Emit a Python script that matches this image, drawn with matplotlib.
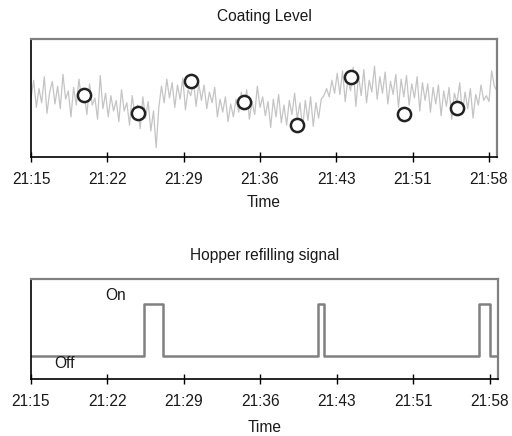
import numpy as np
import pandas as pd
import matplotlib
matplotlib.use("Agg")
import matplotlib.pyplot as plt

plt.rcParams['font.family'] = ['Liberation Sans', 'DejaVu Sans']

# ------------------------------------------------
# Data
# ------------------------------------------------
start = pd.Timestamp("2024-01-01 21:15:00")
sample_step = "15s"

# coating level, one reading every 15 s
coating = [
    5.0, 6.5, 4.2, 5.8,  4.6, 6.8, 3.7, 5.5,  6.4, 4.5, 6.0, 4.1,
    7.0, 4.9, 5.6, 3.4,  5.9, 4.4, 6.6, 4.8,  5.3, 3.6, 6.2, 4.4,
    5.0, 3.2, 6.9, 4.1,  5.4, 3.4, 5.2, 3.9,  4.8, 3.0, 5.7, 3.9,
    4.6, 2.7, 5.2, 3.5,  4.4, 2.4, 5.1, 3.3,  4.7, 2.2, 3.9, 0.8,
    4.2, 6.0, 4.6, 6.6,  5.0, 6.3, 4.2, 6.1,  4.9, 6.7, 4.0, 5.7,
    5.2, 6.4, 4.3, 6.2,  4.8, 6.1, 4.1, 5.5,  4.6, 5.9, 3.4, 4.9,
    3.8, 5.1, 3.0, 4.5,  3.4, 4.9, 3.8, 5.5,  4.0, 5.7, 3.2, 4.7,
    3.6, 6.0, 4.2, 5.1,  3.5, 4.7, 2.5, 4.9,  3.4, 5.3, 2.9, 4.4,
    2.7, 4.8, 3.6, 5.4,  3.2, 4.6, 2.4, 4.8,  3.1, 5.1, 2.6, 4.6,
    3.3, 4.9, 5.2, 5.8,  5.1, 6.5, 5.4, 7.1,  5.3, 7.3, 4.7, 6.6,
    5.6, 7.6, 4.3, 6.9,  5.2, 7.4, 4.6, 6.5,  5.5, 7.7, 4.9, 6.8,
    5.4, 7.2, 4.5, 6.4,  5.3, 7.0, 4.2, 6.6,  5.1, 6.9, 4.4, 6.2,
    5.0, 6.8, 3.9, 6.3,  4.8, 6.2, 3.8, 5.9,  4.5, 6.1, 3.5, 5.6,
    4.3, 5.9, 3.2, 5.4,  4.6, 6.3, 3.6, 5.5,  4.1, 5.8, 3.3, 5.3,
    4.4, 6.1, 4.8, 5.2,  4.7, 7.3, 6.0, 5.6,
]

# lab samples (circles)
sample_times = ["21:20", "21:25", "21:30", "21:35", "21:40", "21:45", "21:50", "21:55"]
sample_values = [5.25, 3.73, 6.44, 4.66, 2.71, 6.78, 3.64, 4.15]

# hopper signal: switch times and state (0 = off, 1 = on)
switch_times = ["21:15:00", "21:25:36", "21:27:23", "21:41:55", "21:42:29",
                "21:56:56", "21:57:58", "21:58:45"]
switch_state = [0, 1, 0, 1, 0, 1, 0, 0]

tick_labels = ["21:15", "21:22", "21:29", "21:36", "21:43", "21:51", "21:58"]
end = pd.Timestamp("2024-01-01 21:58:45")

# ------------------------------------------------
# Build time axes
# ------------------------------------------------
t_coat = pd.date_range(start, periods=len(coating), freq=sample_step)
t_samp = pd.to_datetime(["2024-01-01 " + s for s in sample_times])
t_sw = pd.to_datetime(["2024-01-01 " + s for s in switch_times])
tick_pos = pd.date_range(start, pd.Timestamp("2024-01-01 21:58:00"), periods=len(tick_labels))

FS = 11.2
TXT = '#1a1a1a'

fig = plt.figure(figsize=(5.12, 4.36), dpi=100)

def style_axes(ax, labelpad):
    ax.set_xlim(start, end)
    ax.set_xticks(tick_pos)
    ax.set_xticklabels(tick_labels)
    ax.set_yticks([])
    ax.tick_params(axis='x', direction='inout', length=7, width=1, pad=7,
                   labelsize=FS, color='black', labelcolor=TXT)
    for side in ['left', 'bottom']:
        ax.spines[side].set_color('black')
        ax.spines[side].set_linewidth(1.2)
    for side in ['top', 'right']:
        ax.spines[side].set_color('#808080')
        ax.spines[side].set_linewidth(1.6)
    ax.set_xlabel("Time", fontsize=FS, labelpad=labelpad, color=TXT)

# top panel: coating level
ax1 = fig.add_axes([31/512, 1-157/436, 466/512, 118/436])
ax1.plot(t_coat, coating, color='#c4c4c4', lw=0.9)
ax1.plot(t_samp, sample_values, 'o', ms=9.5, mfc='white', mec='#222222', mew=1.8)
ax1.set_ylim(0, 10)
ax1.set_title("Coating Level", fontsize=FS, pad=13, color=TXT)
style_axes(ax1, 6)

# bottom panel: hopper refilling signal
ax2 = fig.add_axes([31/512, 1-379/436, 467/512, 100/436])
ax2.plot(t_sw, switch_state, drawstyle='steps-post', color='#808080', lw=1.8)
ax2.set_ylim(-0.44, 1.48)
ax2.set_title("Hopper refilling signal", fontsize=FS, pad=14, color=TXT)
ax2.text(pd.Timestamp("2024-01-01 21:22:00"), 1.17, "On", fontsize=FS,
         ha='left', va='center', color=TXT)
ax2.text(pd.Timestamp("2024-01-01 21:17:10"), -0.15, "Off", fontsize=FS,
         ha='left', va='center', color=TXT)
style_axes(ax2, 8)

fig.savefig("out.png", dpi=100)
